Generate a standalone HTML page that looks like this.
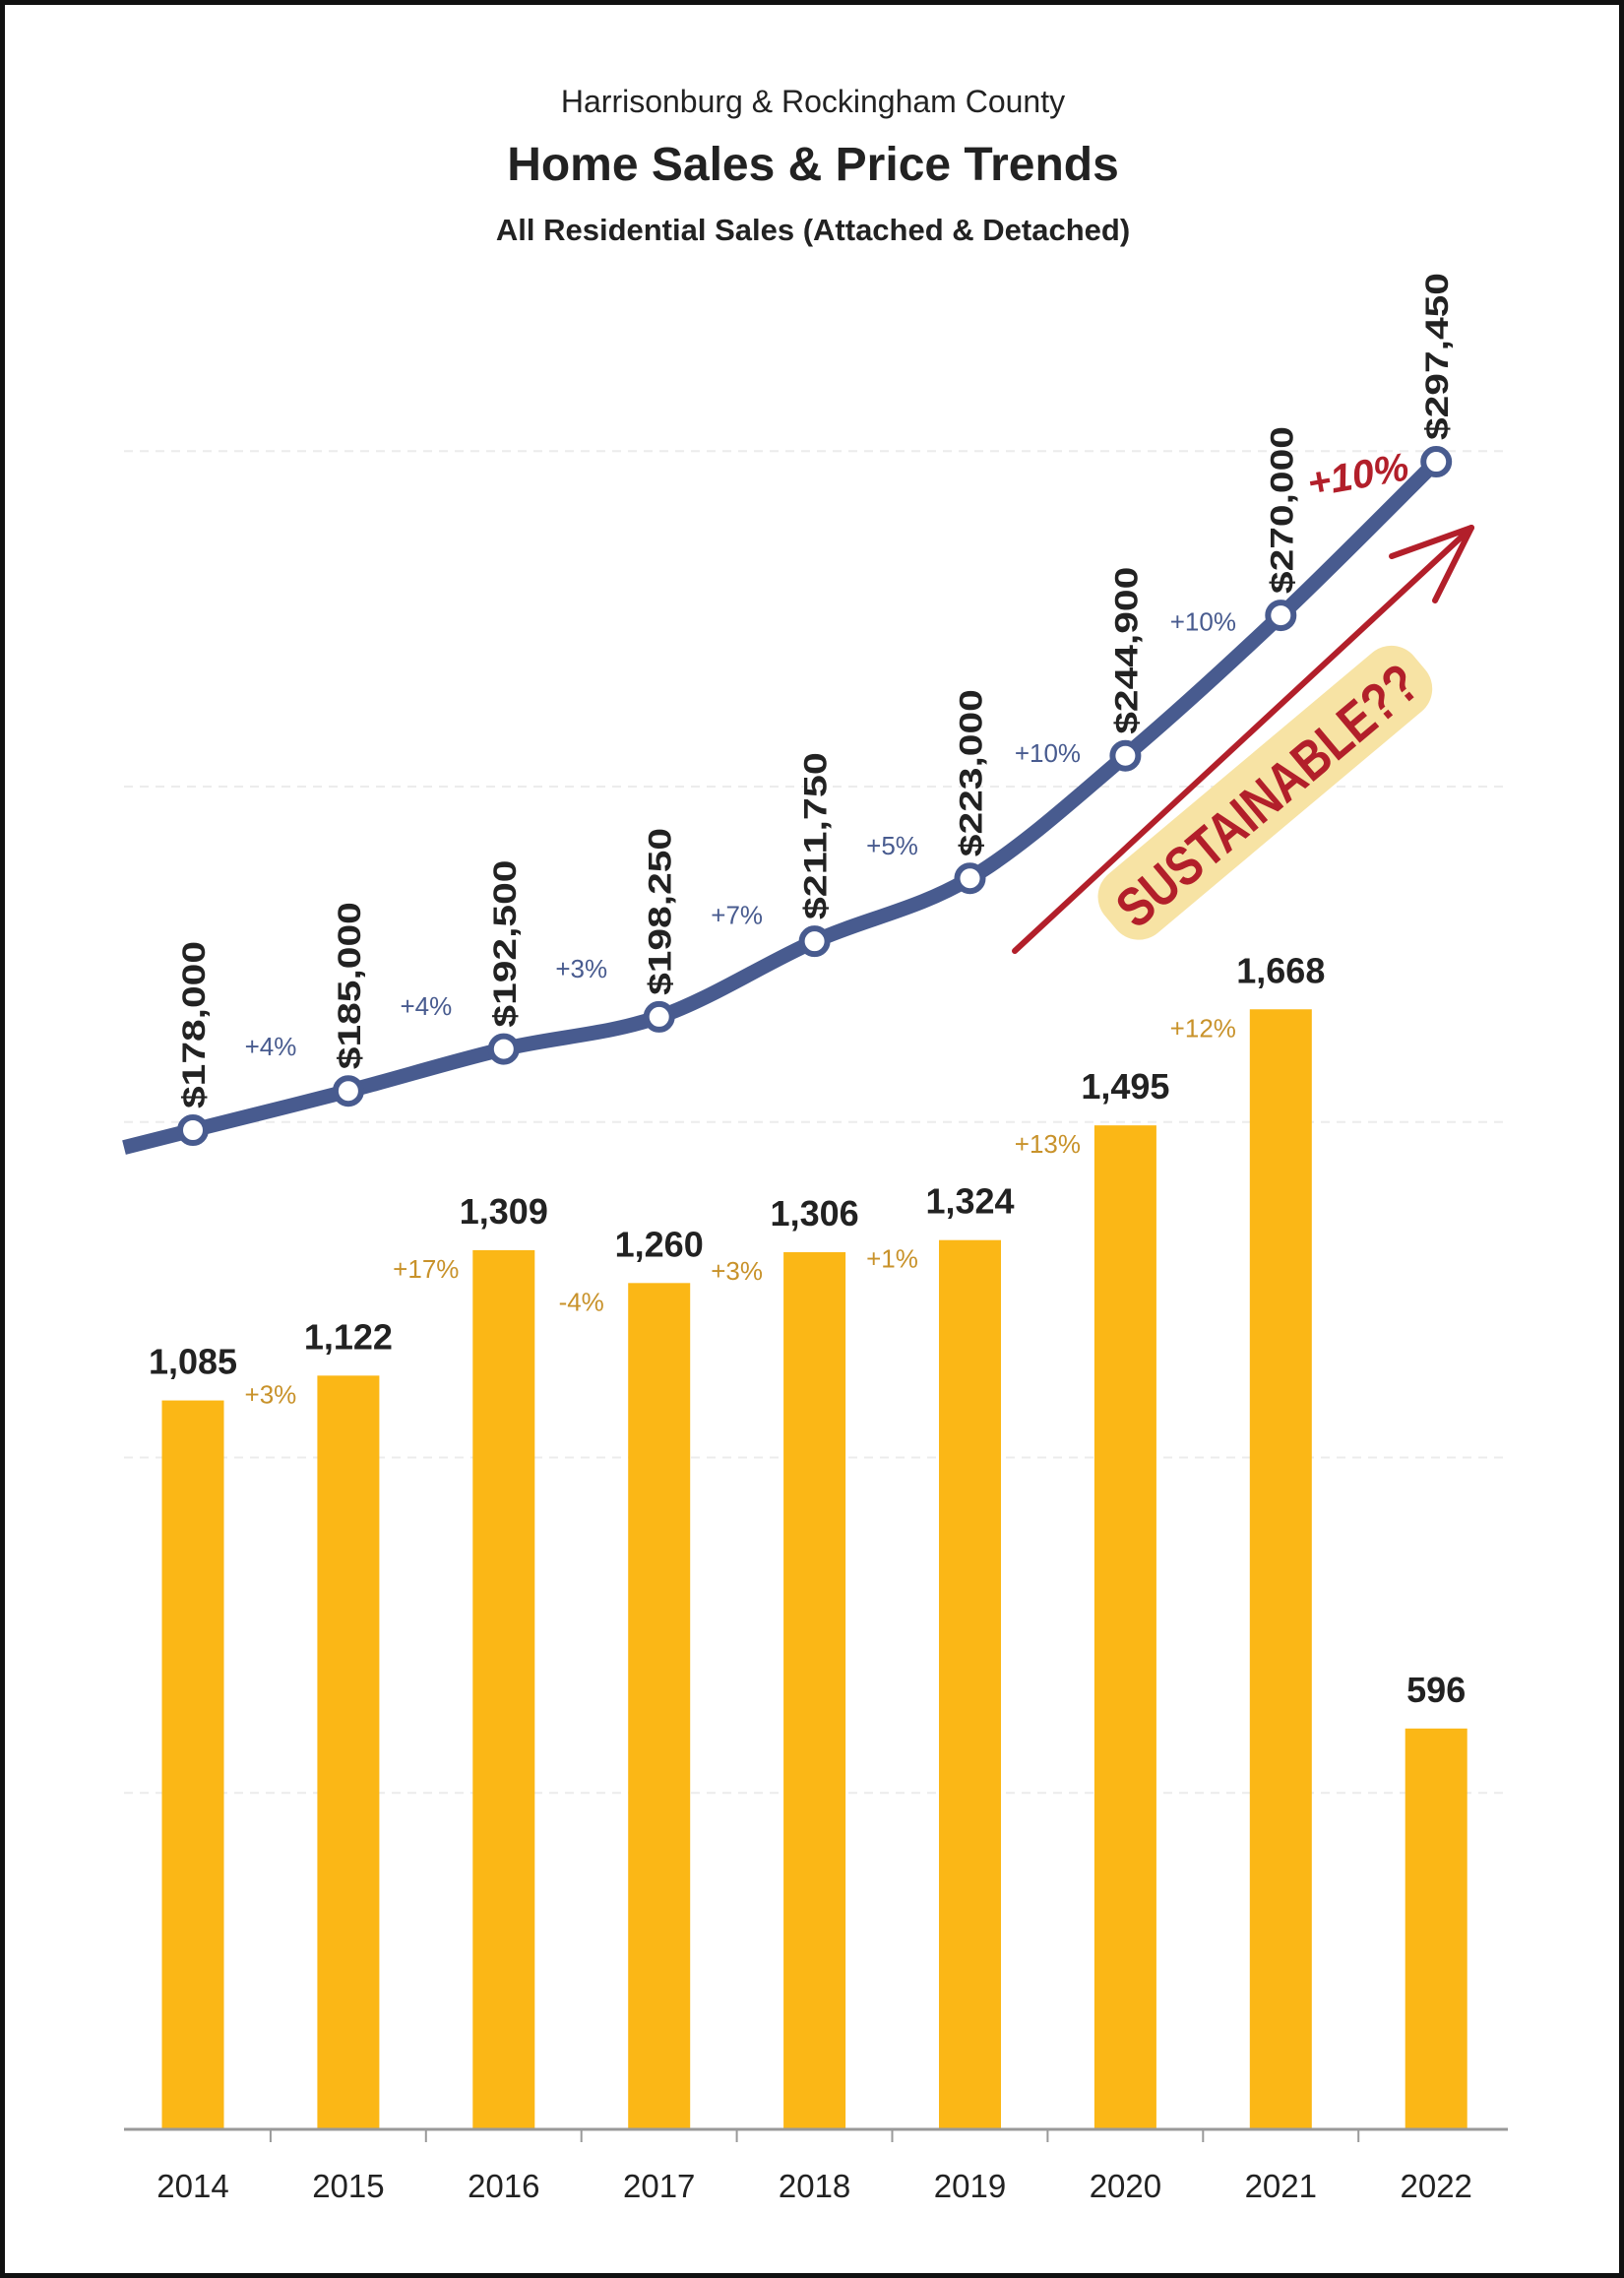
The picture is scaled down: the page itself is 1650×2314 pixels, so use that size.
<!DOCTYPE html>
<html><head><meta charset="utf-8"><style>
html,body{margin:0;padding:0;background:#fff}
svg{display:block}
text{font-family:"Liberation Sans","DejaVu Sans",sans-serif}
</style></head><body>
<svg id="chart" width="1650" height="2314" viewBox="0 0 1650 2314" xmlns="http://www.w3.org/2000/svg">
<rect x="2.5" y="2.5" width="1645" height="2309" fill="#fff" stroke="#111" stroke-width="5"/>
<text x="826" y="114" text-anchor="middle" font-size="32" fill="#222">Harrisonburg &amp; Rockingham County</text>
<text x="826" y="183" text-anchor="middle" font-size="48" font-weight="bold" fill="#222">Home Sales &amp; Price Trends</text>
<text x="826" y="244" text-anchor="middle" font-size="31" font-weight="bold" fill="#222">All Residential Sales (Attached &amp; Detached)</text>
<g id="grid"></g>
<g id="bars"></g>
<g id="axis"></g>
<g id="line"></g>
</svg>
<script>
const years = ["2014","2015","2016","2017","2018","2019","2020","2021","2022"];
const sales = [1085,1122,1309,1260,1306,1324,1495,1668,596];
const salesLabels = ["1,085","1,122","1,309","1,260","1,306","1,324","1,495","1,668","596"];
const salesChange = ["","+3%","+17%","-4%","+3%","+1%","+13%","+12%",""];
const prices = [178000,185000,192500,198250,211750,223000,244900,270000,297450];
const priceLabels = ["$178,000","$185,000","$192,500","$198,250","$211,750","$223,000","$244,900","$270,000","$297,450"];
const priceChange = ["+4%","+4%","+3%","+7%","+5%","+10%","+10%"];
const gridValues = [500,1000,1500,2000,2500];

const NS="http://www.w3.org/2000/svg";
const baseY=2162, axisL=126, axisR=1532;
function xC(i){return 196+157.9*i;}
function yS(v){return baseY - v*0.6815;}
function yPrice(v){return 1148-(v-178000)*0.005684;}
function mk(tag,attrs,parent){const e=document.createElementNS(NS,tag);for(const k in attrs)e.setAttribute(k,attrs[k]);parent.appendChild(e);return e;}

const grid=document.getElementById('grid');
gridValues.forEach(v=>{
  const l=mk('line',{x1:axisL,x2:axisR,y1:yS(v),y2:yS(v),stroke:'#ececec','stroke-width':2,'stroke-dasharray':'9 7'},grid);
  
  
});

const bars=document.getElementById('bars');
sales.forEach((v,i)=>{
  const r=mk('rect',{x:xC(i)-31.5,y:yS(v),width:63,height:baseY-yS(v),fill:'#fbb716'},bars);
  
  
  const t=mk('text',{x:xC(i),y:yS(v)-27,'text-anchor':'middle','font-size':36,'font-weight':'bold',fill:'#222'},bars);
  t.textContent=salesLabels[i];
  
  
  if(salesChange[i]){
    const c=mk('text',{x:xC(i)-79,y:yS(v)+28,'text-anchor':'middle','font-size':26,fill:'#c8922a'},bars);
    c.textContent=salesChange[i];
    
    
  }
});

const axis=document.getElementById('axis');
const al=mk('line',{x1:axisL,x2:axisR,y1:baseY+1,y2:baseY+1,stroke:'#999','stroke-width':3},axis);


years.forEach((y,i)=>{
  if(i>0){
    const tk=mk('line',{x1:xC(i)-79,x2:xC(i)-79,y1:baseY,y2:baseY+14,stroke:'#999','stroke-width':2},axis);
    
    
  }
  const t=mk('text',{x:xC(i),y:2232,'text-anchor':'middle','font-size':33,fill:'#222'},axis);
  t.textContent=y;
  
  
});

const lg=document.getElementById('line');
const pts=prices.map((v,i)=>[xC(i),yPrice(v)]);
const first=[axisL, pts[0][1]+(pts[0][1]-pts[1][1])*(pts[0][0]-axisL)/(pts[1][0]-pts[0][0])];
const all=[first].concat(pts);
let d='M'+all[0][0]+','+all[0][1];
for(let i=0;i<all.length-1;i++){
  const p0=all[Math.max(0,i-1)],p1=all[i],p2=all[i+1],p3=all[Math.min(all.length-1,i+2)];
  const c1=[p1[0]+(p2[0]-p0[0])/6,p1[1]+(p2[1]-p0[1])/6];
  const c2=[p2[0]-(p3[0]-p1[0])/6,p2[1]-(p3[1]-p1[1])/6];
  d+=' C'+c1[0]+','+c1[1]+' '+c2[0]+','+c2[1]+' '+p2[0]+','+p2[1];
}
const path=mk('path',{d:d,fill:'none',stroke:'#485b8f','stroke-width':15,'stroke-linecap':'butt'},lg);


pts.forEach((p,i)=>{
  const c=mk('circle',{cx:p[0],cy:p[1],r:13,fill:'#fff',stroke:'#485b8f','stroke-width':6},lg);
  
  
  const t=mk('text',{x:0,y:0,'font-size':32,'font-weight':'bold',fill:'#222',
    'font-family':'"DejaVu Sans","Liberation Sans",sans-serif',textLength:170,lengthAdjust:'spacingAndGlyphs',
    transform:'translate('+(p[0]+12)+','+(p[1]-22)+') rotate(-90)'},lg);
  t.textContent=priceLabels[i];
  
  
});
priceChange.forEach((s,i)=>{
  const mx=(pts[i][0]+pts[i+1][0])/2, my=(pts[i][1]+pts[i+1][1])/2;
  const t=mk('text',{x:mx,y:my-56,'text-anchor':'middle','font-size':26,fill:'#485b8f'},lg);
  t.textContent=s;
  
  
});
</script>
<svg style="position:absolute;left:0;top:0" width="1650" height="2314">
<g transform="translate(1286,806) rotate(-40)">
<rect x="-205" y="-40" width="410" height="78" rx="30" fill="#f7e3a4"/>
<text x="0" y="22" text-anchor="middle" font-size="56" font-weight="bold" fill="#b21f2a" textLength="380" lengthAdjust="spacingAndGlyphs">SUSTAINABLE??</text>
</g>
<g stroke="#b21f2a" stroke-width="6" stroke-linecap="round" fill="none">
<line x1="1031" y1="966" x2="1495" y2="536"/>
<line x1="1495" y1="536" x2="1414" y2="565"/>
<line x1="1495" y1="536" x2="1458" y2="610"/>
</g>
<text x="1380" y="496" text-anchor="middle" font-size="40" font-style="italic" font-weight="bold" fill="#b21f2a" transform="rotate(-10 1380 484)">+10%</text>
</svg>
</body></html>
